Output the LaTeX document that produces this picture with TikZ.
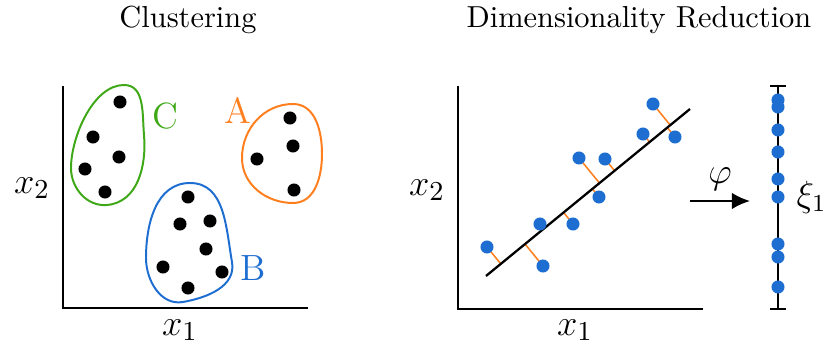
\documentclass[tikz,border=0pt]{standalone}
\usepackage{amsmath,amssymb}
\usepackage{xcolor}
\usepackage{tikz}
\usetikzlibrary{arrows.meta,calc,backgrounds}

\definecolor{cgreen}{RGB}{62,168,22}
\definecolor{corange}{RGB}{255,127,30}
\definecolor{cblue}{RGB}{30,110,210}

\begin{document}
\begin{tikzpicture}[
    x=0.329pt, y=-0.329pt,
    axis/.style={line width=0.75pt, black},
    dot/.style={circle, fill=black, inner sep=0pt, minimum size=4.3pt},
    bdot/.style={circle, fill=cblue, inner sep=0pt, minimum size=4.3pt},
    blob/.style={line width=0.65pt},
    proj/.style={corange, line width=0.5pt},
    arrow/.style={-{Latex[length=6pt, width=5.5pt]}, line width=0.75pt, black},
    axlbl/.style={font=\fontsize{13}{15}\selectfont},
    lbl/.style={font=\large, inner sep=1pt}
  ]
    \useasboundingbox (0,0) rectangle (825,348);

    % --- CLUSTERING PANEL ---
    \node (ttlclust) at (188,20) {Clustering};
    \coordinate (o1) at (63,308);
    \draw[axis] (63,86) -- (o1) -- (308,308);
    \node[axlbl] (x2a) at (32,188) {$x_2$};
    \node[axlbl] (x1a) at (180,330) {$x_1$};

    % cluster C
    \draw[blob, cgreen] (124,85) to[out=0, in=95] (144,135) to[out=-85, in=5] (107,205)
      to[out=185, in=-90] (71,168) to[out=90, in=180, looseness=0.8] (124,85);
    \foreach \i/\x/\y in {1/120/102, 2/93/137, 3/119/157, 4/85/169, 5/105/192}
      \node[dot] (c\i) at (\x,\y) {};
    \node[lbl, cgreen] (labc) at (165,116) {C};

    % cluster A
    \draw[blob, corange] (293,104) to[out=0, in=90] (322,154) to[out=-90, in=0] (293,203)
      to[out=180, in=-90] (242,158) to[out=90, in=180] (293,104);
    \foreach \i/\x/\y in {1/290/118, 2/293/146, 3/257/159, 4/294/190}
      \node[dot] (a\i) at (\x,\y) {};
    \node[lbl, corange] (laba) at (238,110) {A};

    % cluster B
    \draw[blob, cblue] (190,183) to[out=0, in=100] (232,262) to[out=-80, in=10] (183,302)
      to[out=190, in=-90] (146,258) to[out=90, in=180] (190,183);
    \foreach \i/\x/\y in {1/188/197, 2/180/224, 3/210/221, 4/206/249, 5/163/267, 6/222/272, 7/188/288}
      \node[dot] (b\i) at (\x,\y) {};
    \node[lbl, cblue] (labb) at (253,268) {B};

    % --- DIMENSIONALITY REDUCTION PANEL ---
    \node (ttldim) at (639,20) {Dimensionality Reduction};
    \coordinate (o2) at (458,309);
    \draw[axis] (458,86) -- (o2) -- (703,309);
    \node[axlbl] (x2b) at (427,190) {$x_2$};
    \node[axlbl] (x1b) at (575,330) {$x_1$};

    \coordinate (fitA) at (486,276);
    \coordinate (fitB) at (690,109);
    \draw[axis] (fitA) -- (fitB);
    \foreach \i/\x/\y in {1/487/247, 2/543/266, 3/540/224, 4/573/224, 5/599/197, 6/579/158, 7/605/159, 8/643/134, 9/653/104, 10/675/137}
      \node[bdot] (p\i) at (\x,\y) {};
    \begin{scope}[on background layer]
      \foreach \i in {1,...,10}
        \draw[proj] (p\i.center) -- ($(fitA)!(p\i.center)!(fitB)$);
    \end{scope}

    % --- MAPPING ---
    \coordinate (phiA) at (690,201);
    \coordinate (phiB) at (750,201);
    \draw[arrow] (phiA) -- node[lbl, above=2pt] {$\varphi$} (phiB);

    % --- 1D AXIS ---
    \coordinate (xitop) at (778,86);
    \coordinate (xibot) at (778,309);
    \draw[axis] (xitop) -- (xibot);
    \draw[axis] ($(xitop)+(-8,0)$) -- ($(xitop)+(8,0)$);
    \draw[axis] ($(xibot)+(-8,0)$) -- ($(xibot)+(8,0)$);
    \foreach \i/\y in {1/100, 2/107, 3/130, 4/152, 5/179, 6/197, 7/244, 8/257, 9/287}
      \node[bdot] (q\i) at (778,\y) {};
    \node[lbl, anchor=west] (xi) at (793,197) {$\xi_1$};
  \end{tikzpicture}
\end{document}
